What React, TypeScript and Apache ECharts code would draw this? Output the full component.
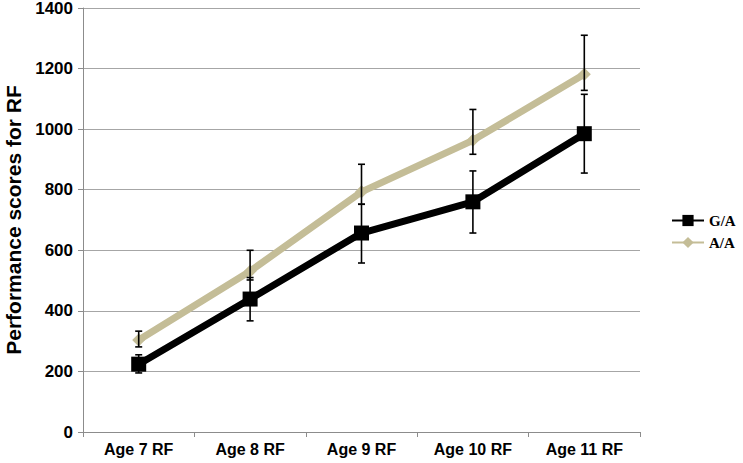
import React, { useEffect, useRef } from "react";
import * as echarts from "echarts";

const categories = ["Age 7 RF", "Age 8 RF", "Age 9 RF", "Age 10 RF", "Age 11 RF"];
const gaValues = [224, 439, 657, 760, 985];
const gaLow = [195, 367, 558, 657, 855];
const gaHigh = [255, 510, 752, 862, 1115];
const aaValues = [304, 531, 793, 963, 1181];
const aaLow = [281, 502, 752, 917, 1128];
const aaHigh = [333, 600, 884, 1065, 1310];
const yTicks = [0, 200, 400, 600, 800, 1000, 1200, 1400];

const errData = (low: number[], high: number[]) => low.map((l, i) => [i, l, high[i]]);

const errorRender = (params: any, api: any) => {
  const x = api.value(0);
  const pLo = api.coord([x, api.value(1)]);
  const pHi = api.coord([x, api.value(2)]);
  const hw = 3.5;
  const st = { stroke: "#000", lineWidth: 1.6 };
  return {
    type: "group",
    children: [
      { type: "line", shape: { x1: pHi[0], y1: pHi[1], x2: pLo[0], y2: pLo[1] }, style: st },
      { type: "line", shape: { x1: pHi[0] - hw, y1: pHi[1], x2: pHi[0] + hw, y2: pHi[1] }, style: st },
      { type: "line", shape: { x1: pLo[0] - hw, y1: pLo[1], x2: pLo[0] + hw, y2: pLo[1] }, style: st },
    ],
  };
};

export default function App() {
  const ref = useRef<HTMLDivElement>(null);
  useEffect(() => {
    if (!ref.current) return;
    const chart = echarts.init(ref.current, null, { renderer: "svg" });
    const tan = "#C4BD97";
    chart.setOption({
      animation: false,
      backgroundColor: "#fff",
      grid: { left: 83, right: 103, top: 8, bottom: 31, containLabel: false, outerBoundsMode: "none" },
      legend: {
        orient: "vertical",
        left: 666,
        top: 208,
        itemWidth: 32,
        itemHeight: 14,
        itemGap: 7,
        data: ["G/A", "A/A"],
        textStyle: { fontFamily: "Liberation Serif", fontWeight: "bold", fontSize: 15, color: "#000" },
      },
      xAxis: {
        type: "category",
        data: categories,
        boundaryGap: true,
        axisLine: { lineStyle: { color: "#8c8c8c", width: 1 } },
        axisTick: { show: true, length: 5, lineStyle: { color: "#8c8c8c" } },
        axisLabel: { fontFamily: "Liberation Sans", fontWeight: "bold", fontSize: 16, color: "#000", margin: 9 },
      },
      yAxis: {
        type: "value",
        min: 0,
        max: 1400,
        interval: 200,
        name: "Performance scores for RF",
        nameLocation: "middle",
        nameGap: 57,
        nameTextStyle: { fontFamily: "Liberation Sans", fontWeight: "bold", fontSize: 21, color: "#000" },
        axisLine: { show: true, lineStyle: { color: "#8c8c8c", width: 1 } },
        axisTick: { show: true, length: 5, lineStyle: { color: "#8c8c8c" } },
        axisLabel: {
          fontFamily: "Liberation Sans",
          fontWeight: "bold",
          fontSize: 17,
          color: "#000",
          margin: 10,
          formatter: (v: number) => (yTicks.includes(v) ? String(v) : ""),
        },
        splitLine: { show: true, lineStyle: { color: "#a6a6a6", width: 1 } },
      },
      series: [
        {
          name: "G/A",
          type: "line",
          data: gaValues,
          symbol: "rect",
          symbolSize: 15,
          lineStyle: { color: "#000", width: 7 },
          itemStyle: { color: "#000" },
          z: 3,
        },
        {
          name: "A/A",
          type: "line",
          data: aaValues,
          symbol: "diamond",
          symbolSize: 13,
          lineStyle: { color: tan, width: 7 },
          itemStyle: { color: tan },
          z: 2,
        },
        {
          type: "custom",
          data: errData(gaLow, gaHigh),
          renderItem: errorRender,
          z: 5,
          silent: true,
        },
        {
          type: "custom",
          data: errData(aaLow, aaHigh),
          renderItem: errorRender,
          z: 5,
          silent: true,
        },
      ],
    });
    return () => chart.dispose();
  }, []);
  return <div ref={ref} style={{ width: 743, height: 463, position: "absolute", left: 0, top: 0 }} />;
}
